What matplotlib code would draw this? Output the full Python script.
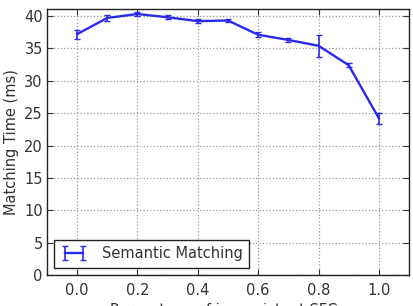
import matplotlib
matplotlib.use("Agg")
import matplotlib.pyplot as plt

x_vals = [0.0, 0.1, 0.2, 0.3, 0.4, 0.5, 0.6, 0.7, 0.8, 0.9, 1.0]
times = [37.2, 39.7, 40.3, 39.8, 39.2, 39.3, 37.1, 36.3, 35.4, 32.4, 24.2]
errors = [0.7, 0.5, 0.3, 0.3, 0.3, 0.2, 0.4, 0.3, 1.7, 0.3, 0.8]
x_ticks = [0.0, 0.2, 0.4, 0.6, 0.8, 1.0]
y_ticks = [0, 5, 10, 15, 20, 25, 30, 35, 40]

plt.rcParams['font.family'] = ['DejaVu Sans']
fig = plt.figure(figsize=(4.14, 3.06), dpi=100)
ax = fig.add_axes([0.1135, 0.101, 0.8745, 0.868])

ax.errorbar(x_vals, times, yerr=errors, color='#2a2aee', lw=1.7,
            elinewidth=1.2, capsize=2.0, capthick=1.0, label='Semantic Matching')

ax.set_xlim(-0.1, 1.1)
ax.set_ylim(0, 41)
ax.set_xticks(x_ticks)
ax.set_xticklabels(['%.1f' % v for v in x_ticks])
ax.set_yticks(y_ticks)
ax.tick_params(direction='in', labelsize=10.5, colors='#333333', length=4,
               top=True, right=True, pad=3)
ax.tick_params(axis='x', pad=6)
ax.grid(True, linestyle=':', color='#999999', lw=0.9)
for s in ax.spines.values():
    s.set_color('#222222')
    s.set_linewidth(1.0)
ax.set_xlabel('Percentage of inconsistent SFCs', fontsize=10.5, color='#333333', labelpad=3)
ax.set_ylabel('Matching Time (ms)', fontsize=10.5, color='#333333', labelpad=4)

leg = ax.legend(loc='lower left', fontsize=10.5, fancybox=False, framealpha=1,
                edgecolor='#222222', borderaxespad=0.5, numpoints=2,
                handlelength=1.8, handletextpad=1.0, borderpad=0.45)
leg.get_frame().set_linewidth(1.0)
for t in leg.get_texts():
    t.set_color('#333333')

fig.savefig('out.png', dpi=100)
